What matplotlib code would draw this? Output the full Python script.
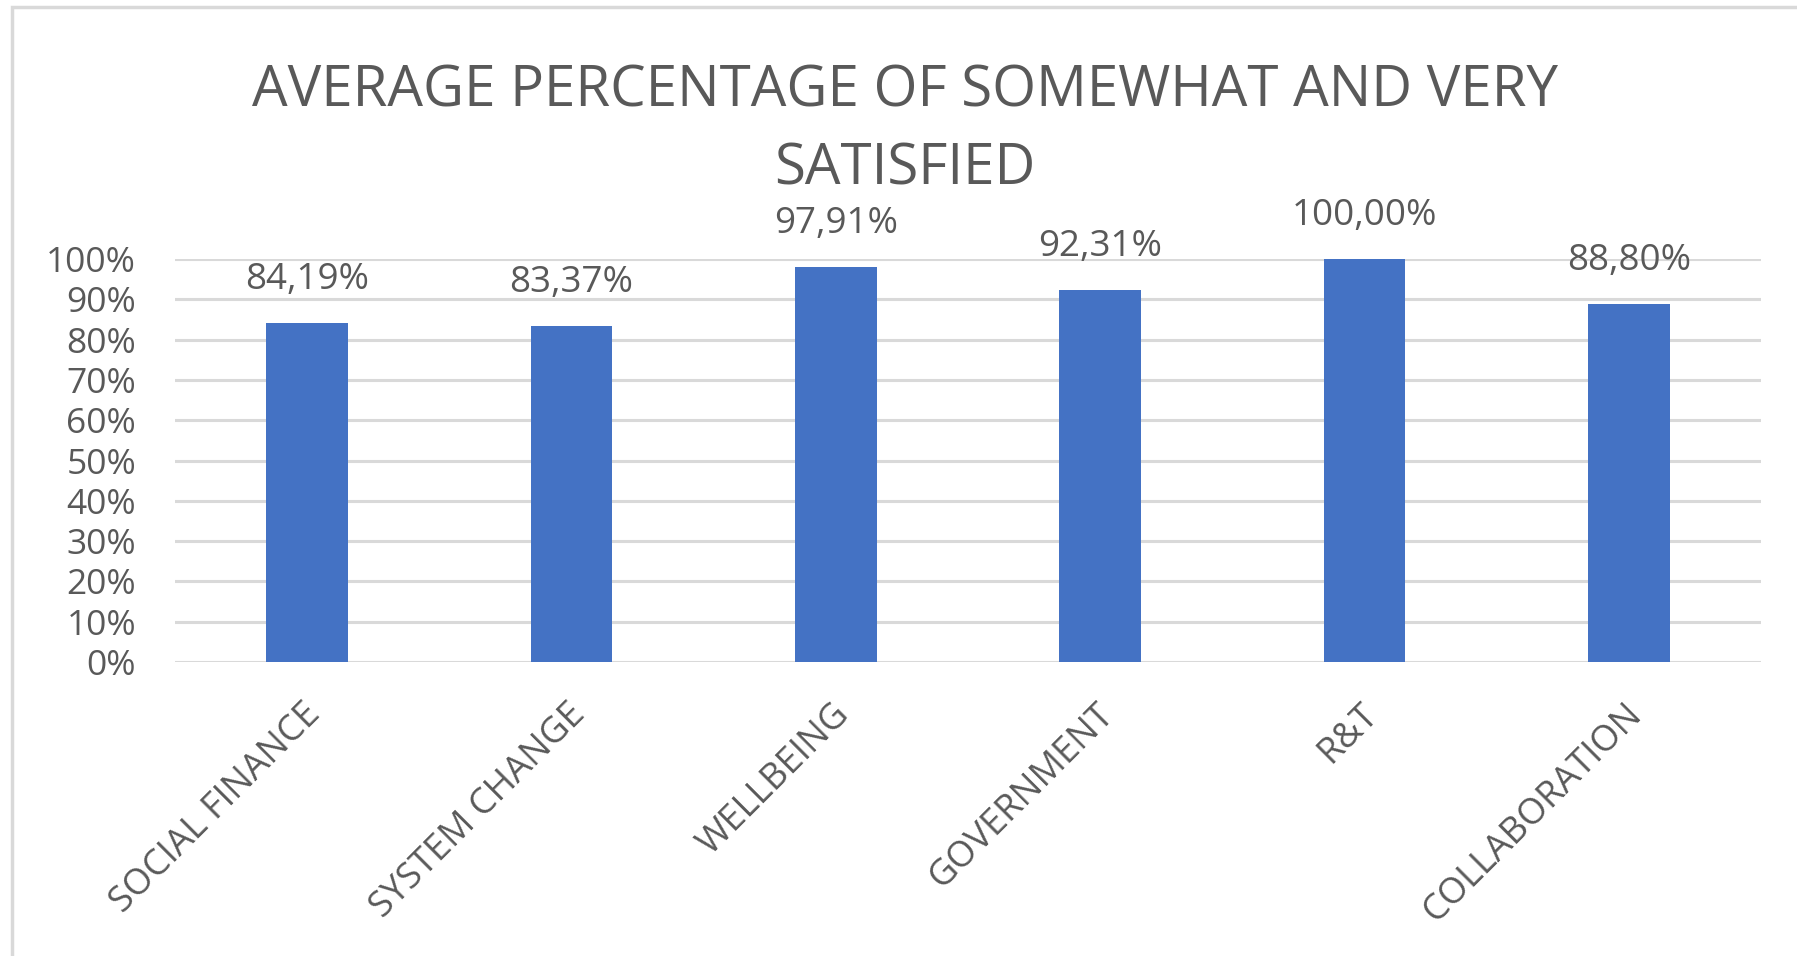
import matplotlib
matplotlib.use("Agg")
import matplotlib.pyplot as plt
from matplotlib.patches import Rectangle

categories = ["SOCIAL FINANCE", "SYSTEM CHANGE", "WELLBEING", "GOVERNMENT", "R&T", "COLLABORATION"]
values = [84.19, 83.37, 97.91, 92.31, 100.00, 88.80]
yticks = [0, 10, 20, 30, 40, 50, 60, 70, 80, 90, 100]
ytick_labels = [f"{t}%" for t in yticks]
title_lines = ["AVERAGE PERCENTAGE OF SOMEWHAT AND VERY", "SATISFIED"]

W, H, DPI = 1797, 956, 100
TXT = "#595959"
GRID = "#D9D9D9"
BAR = "#4472C4"
FONT = ["Open Sans", "DejaVu Sans"]

plt.rcParams["font.family"] = FONT

fig = plt.figure(figsize=(W / DPI, H / DPI), dpi=DPI)
fig.patch.set_facecolor("white")

# chart area border (left & top visible)
fig.patches.append(Rectangle((12 / W, -0.1), 1.2, 1 - 7 / H + 0.1, transform=fig.transFigure,
                             fill=False, edgecolor=GRID, linewidth=2.5))

left, right = 175 / W, 1761 / W
bottom, top = 1 - 662 / H, 1 - 259 / H
ax = fig.add_axes([left, bottom, right - left, top - bottom])

x = list(range(len(categories)))
ax.bar(x, values, width=0.31, color=BAR, zorder=3)
ax.set_xlim(-0.5, len(categories) - 0.5)
ax.set_ylim(0, 100)

ax.set_yticks(yticks)
ax.set_yticklabels(ytick_labels, fontsize=25.5, color=TXT)
ax.tick_params(axis="y", length=0, pad=28)
ax.yaxis.grid(True, color=GRID, linewidth=2.2, zorder=0)
ax.set_axisbelow(True)

ax.set_xticks(x)
ax.set_xticklabels([])
ax.tick_params(axis="x", length=0)
for xi, lab in zip(x, categories):
    ax.annotate(lab, xy=(xi, 0), xycoords="data", xytext=(-3, -25), textcoords="offset points",
                rotation=45, rotation_mode="anchor", ha="right", va="top",
                fontsize=26, color=TXT)

for s in ax.spines.values():
    s.set_visible(False)

for xi, v in zip(x, values):
    ax.annotate(f"{v:.2f}".replace(".", ",") + "%", xy=(xi, v), xytext=(0, 31),
                textcoords="offset points", ha="center", va="center",
                fontsize=26.5, color=TXT)

fig.text(905 / W, 1 - 92 / H, title_lines[0], ha="center", va="center", fontsize=40.6, color=TXT)
fig.text(905 / W, 1 - 170 / H, title_lines[1], ha="center", va="center", fontsize=40.6, color=TXT)

fig.savefig("out.png", dpi=DPI, facecolor="white")
